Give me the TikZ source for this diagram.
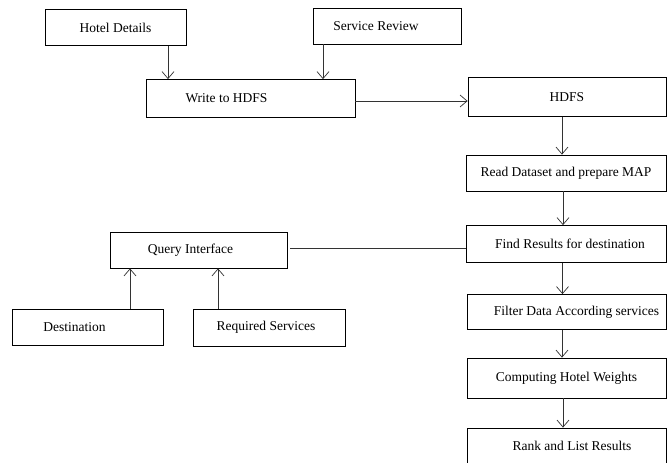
\documentclass[tikz,border=0pt]{standalone}
\usepackage{fontspec}
\setmainfont{Liberation Serif}
\usetikzlibrary{arrows.meta}
\begin{document}
\begin{tikzpicture}[x=1pt,y=-1pt,
  box/.style={draw=black,line width=0.8pt,rectangle,inner sep=0pt,
    font=\fontsize{13.5}{15}\selectfont},
  arr/.style={draw=black!80,line width=0.7pt,-{Straight Barb[length=7pt,width=12pt]}},
  link/.style={draw=black!80,line width=0.7pt}]
\useasboundingbox[fill=white] (0,0) rectangle (667,463);
% boxes
\node[box,minimum width=141pt,minimum height=36pt] (hotel) at (115.5,27.5) {Hotel Details};
\node[box,minimum width=148pt,minimum height=36pt] (service) at (387,26) {Service Review\hspace*{22pt}};
\node[box,minimum width=209pt,minimum height=38pt] (write) at (250.5,98.5) {Write to HDFS\hspace*{48pt}};
\node[box,minimum width=198pt,minimum height=38.5pt] (hdfs) at (567,97) {HDFS};
\node[box,minimum width=200pt,minimum height=36pt] (read) at (566,173) {Read Dataset and prepare MAP};
\node[box,minimum width=200pt,minimum height=37pt] (find) at (566,244) {\hspace*{8pt}Find Results for destination};
\node[box,minimum width=177pt,minimum height=36pt] (qi) at (198.5,250) {Query Interface\hspace*{16pt}};
\node[box,minimum width=151pt,minimum height=36pt] (dest) at (87.5,327) {Destination\hspace*{26pt}};
\node[box,minimum width=152pt,minimum height=37pt] (req) at (269,327.5) {\raisebox{2pt}{Required Services}\hspace*{6pt}};
\node[box,minimum width=199pt,minimum height=35pt] (filter) at (566.5,312) {\hspace*{20pt}Filter Data According services};
\node[box,minimum width=199pt,minimum height=40pt] (comp) at (566.5,378) {Computing Hotel Weights};
\node[box,minimum width=199pt,minimum height=42pt] (rank) at (566.5,449) {\hspace*{11pt}\raisebox{6pt}{Rank and List Results}};
% connectors
\draw[arr] ([xshift=52.5pt]hotel.south) -- ([xshift=52.5pt]hotel.south |- write.north);
\draw[arr] ([xshift=-64pt]service.south) -- ([xshift=-64pt]service.south |- write.north);
\draw[arr] ([yshift=-2.5pt]write.east) -- ([yshift=-2.5pt]write.east -| hdfs.west);
\draw[arr] ([xshift=-5pt]hdfs.south) -- ([xshift=-5pt]hdfs.south |- read.north);
\draw[arr] ([xshift=-3pt]read.south) -- ([xshift=-3pt]read.south |- find.north);
\draw[arr] ([xshift=-3.5pt]find.south) -- ([xshift=-3.5pt]find.south |- filter.north);
\draw[arr] ([xshift=-4.5pt]filter.south) -- ([xshift=-4.5pt]filter.south |- comp.north);
\draw[arr] ([xshift=-3.5pt]comp.south) -- ([xshift=-3.5pt]comp.south |- rank.north);
\draw[link] ([xshift=3pt,yshift=2pt]qi.east) -- ([yshift=2pt]qi.east -| find.west);
\draw[arr] ([xshift=42.5pt]dest.north) -- ([xshift=42.5pt]dest.north |- qi.south);
\draw[arr] ([xshift=-51pt]req.north) -- ([xshift=-51pt]req.north |- qi.south);
\end{tikzpicture}
\end{document}
